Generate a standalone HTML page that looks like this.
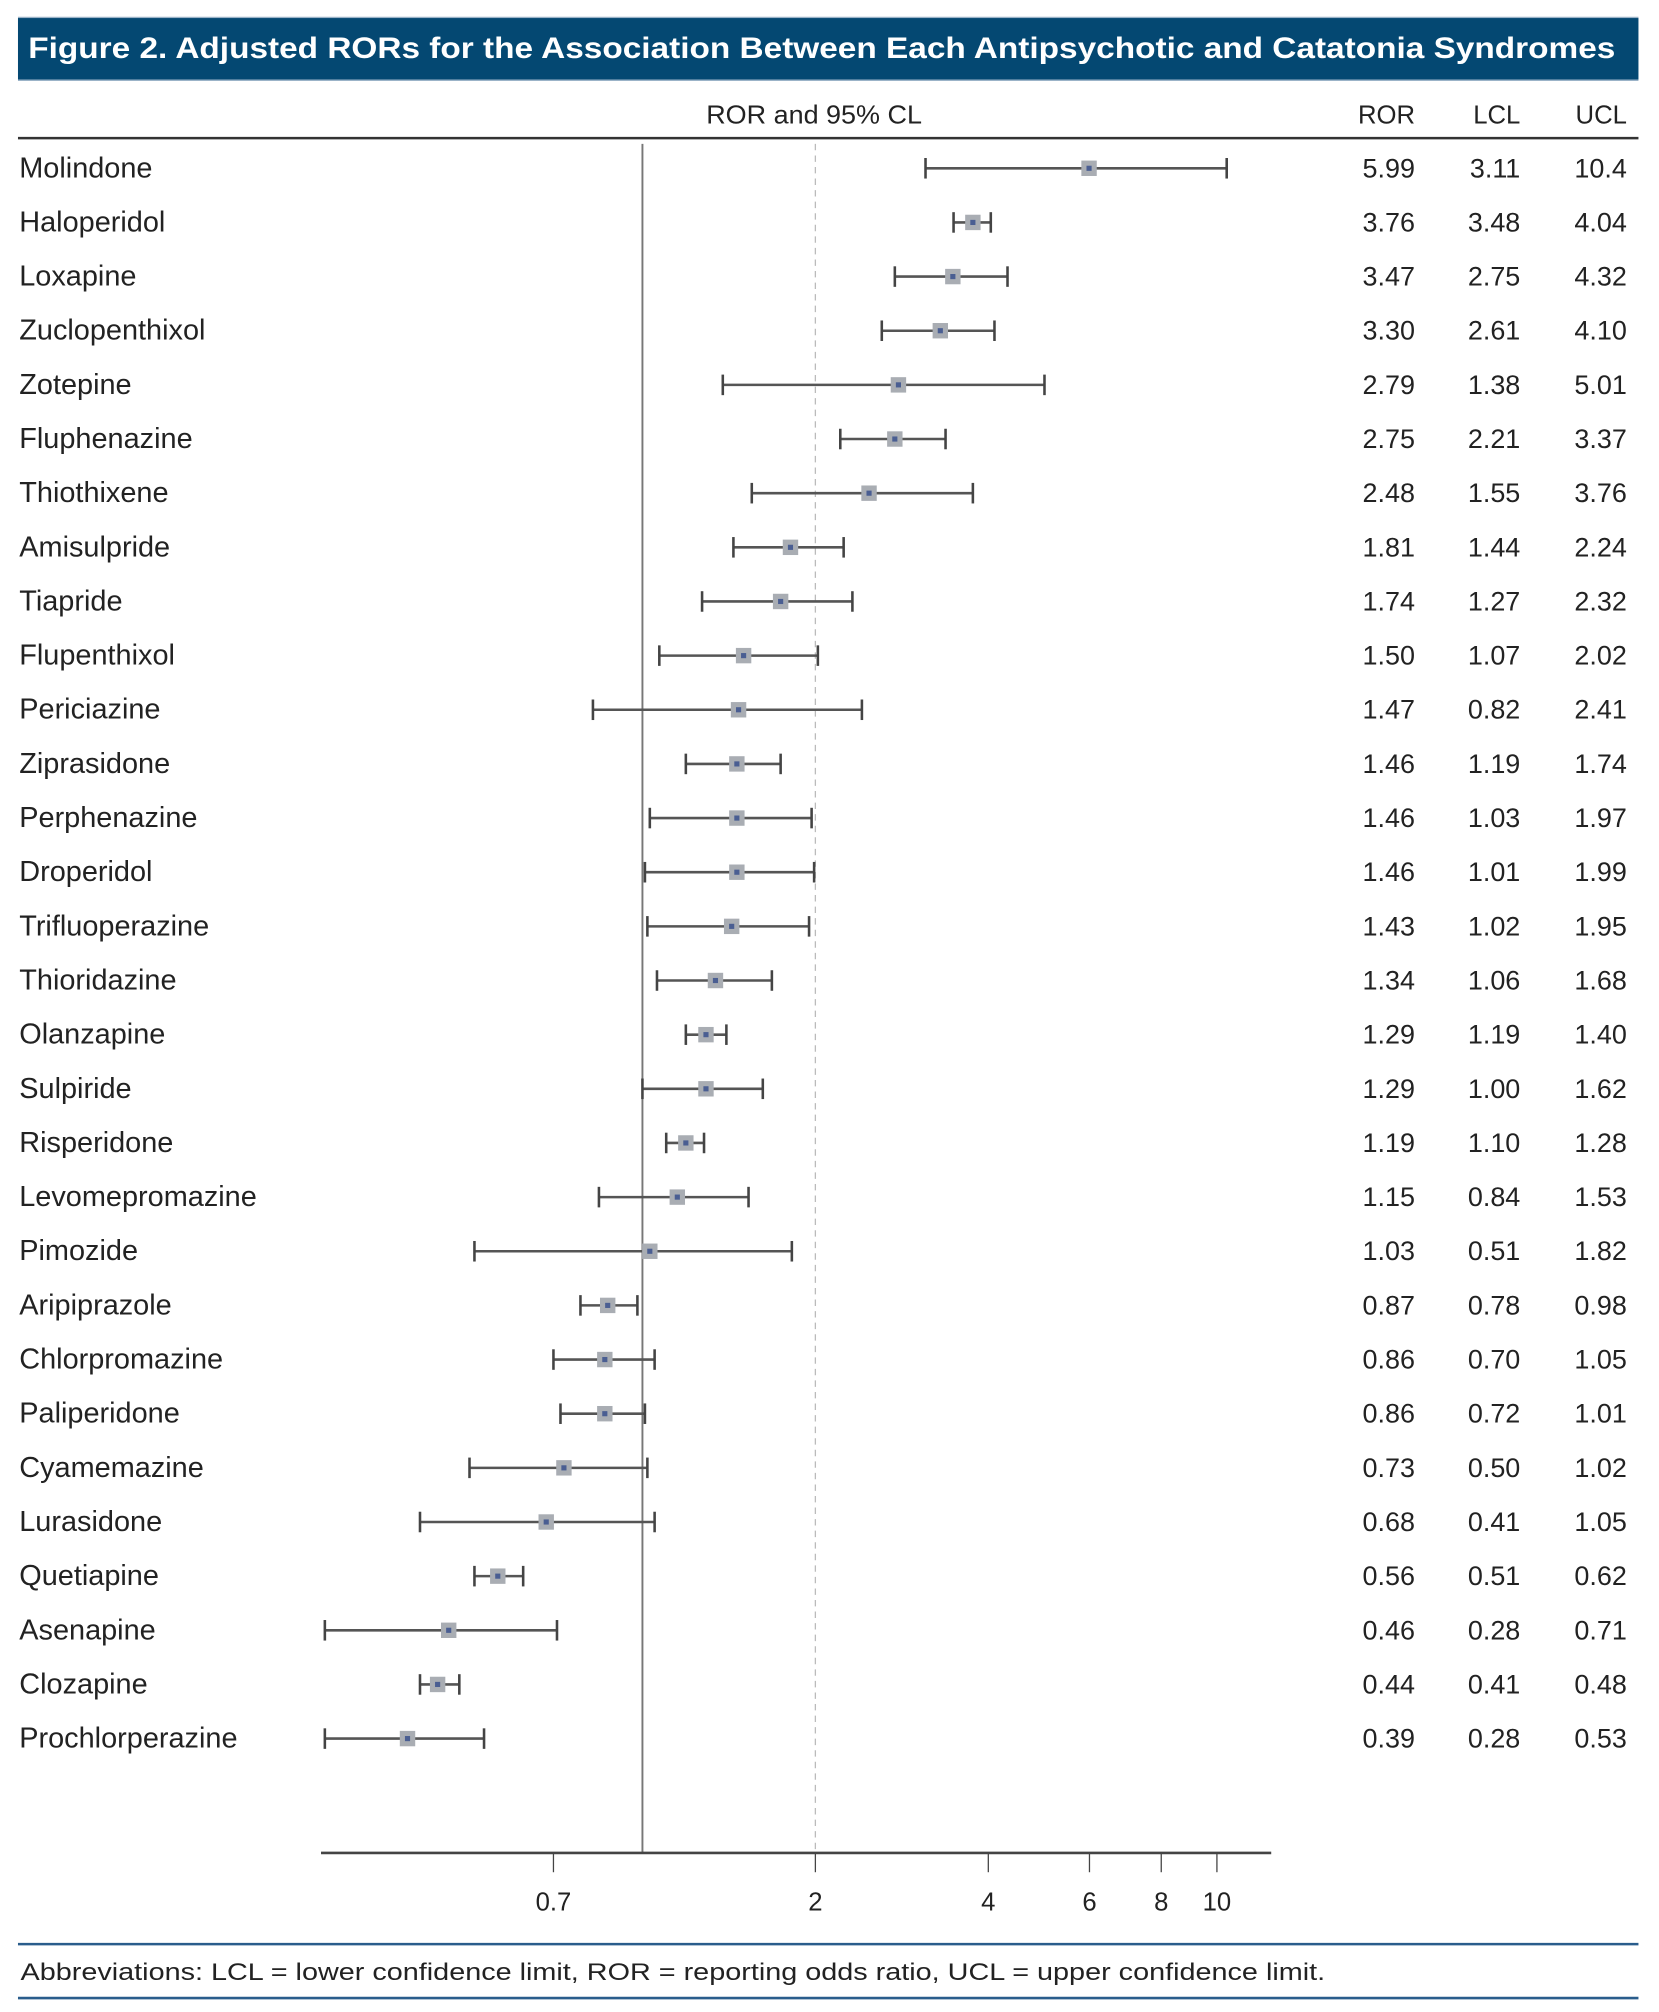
<!DOCTYPE html>
<html><head><meta charset="utf-8"><style>
html,body{margin:0;padding:0;background:#fff}
svg{display:block}
text{font-family:"Liberation Sans",sans-serif}
</style></head><body>
<svg id="chart" width="1659" height="2012" viewBox="0 0 1292 1566.8" xmlns="http://www.w3.org/2000/svg">
<rect x="14" y="14" width="1262" height="48" fill="#044872"/>
<line x1="14" y1="13.5" x2="1276" y2="13.5" stroke="#9bb3c8" stroke-width="1"/>
<line x1="14" y1="62.5" x2="1276" y2="62.5" stroke="#9bb3c8" stroke-width="1"/>
<text x="22" y="45" fill="#fff" font-size="23" font-weight="bold" textLength="1236" lengthAdjust="spacingAndGlyphs">Figure 2. Adjusted RORs for the Association Between Each Antipsychotic and Catatonia Syndromes</text>
<text x="634" y="96" font-size="20" text-anchor="middle" fill="#222" textLength="168" lengthAdjust="spacingAndGlyphs">ROR and 95% CL</text>
<text x="1102" y="96" font-size="20" text-anchor="end" fill="#222">ROR</text>
<text x="1184" y="96" font-size="20" text-anchor="end" fill="#222">LCL</text>
<text x="1267" y="96" font-size="20" text-anchor="end" fill="#222">UCL</text>
<line x1="14" y1="107.5" x2="1276" y2="107.5" stroke="#333" stroke-width="2"/>
<g id="plot"></g>
<line x1="14" y1="1514" x2="1276" y2="1514" stroke="#2a5d8c" stroke-width="2"/>
<text x="16" y="1542" font-size="19" fill="#222" textLength="1016" lengthAdjust="spacingAndGlyphs">Abbreviations: LCL = lower confidence limit, ROR = reporting odds ratio, UCL = upper confidence limit.</text>
<line x1="14" y1="1556" x2="1276" y2="1556" stroke="#2a5d8c" stroke-width="2"/>
</svg>
<script>
const drugs=["Molindone","Haloperidol","Loxapine","Zuclopenthixol","Zotepine","Fluphenazine","Thiothixene","Amisulpride","Tiapride","Flupenthixol","Periciazine","Ziprasidone","Perphenazine","Droperidol","Trifluoperazine","Thioridazine","Olanzapine","Sulpiride","Risperidone","Levomepromazine","Pimozide","Aripiprazole","Chlorpromazine","Paliperidone","Cyamemazine","Lurasidone","Quetiapine","Asenapine","Clozapine","Prochlorperazine"];
const ror=[5.99,3.76,3.47,3.30,2.79,2.75,2.48,1.81,1.74,1.50,1.47,1.46,1.46,1.46,1.43,1.34,1.29,1.29,1.19,1.15,1.03,0.87,0.86,0.86,0.73,0.68,0.56,0.46,0.44,0.39];
const lcl=[3.11,3.48,2.75,2.61,1.38,2.21,1.55,1.44,1.27,1.07,0.82,1.19,1.03,1.01,1.02,1.06,1.19,1.00,1.10,0.84,0.51,0.78,0.70,0.72,0.50,0.41,0.51,0.28,0.41,0.28];
const ucl=[10.4,4.04,4.32,4.10,5.01,3.37,3.76,2.24,2.32,2.02,2.41,1.74,1.97,1.99,1.95,1.68,1.40,1.62,1.28,1.53,1.82,0.98,1.05,1.01,1.02,1.05,0.62,0.71,0.48,0.53];
const rorText=["5.99","3.76","3.47","3.30","2.79","2.75","2.48","1.81","1.74","1.50","1.47","1.46","1.46","1.46","1.43","1.34","1.29","1.29","1.19","1.15","1.03","0.87","0.86","0.86","0.73","0.68","0.56","0.46","0.44","0.39"];
const lclText=["3.11","3.48","2.75","2.61","1.38","2.21","1.55","1.44","1.27","1.07","0.82","1.19","1.03","1.01","1.02","1.06","1.19","1.00","1.10","0.84","0.51","0.78","0.70","0.72","0.50","0.41","0.51","0.28","0.41","0.28"];
const uclText=["10.4","4.04","4.32","4.10","5.01","3.37","3.76","2.24","2.32","2.02","2.41","1.74","1.97","1.99","1.95","1.68","1.40","1.62","1.28","1.53","1.82","0.98","1.05","1.01","1.02","1.05","0.62","0.71","0.48","0.53"];
const ticks=[0.7,2,4,6,8,10];
const tickLabels=["0.7","2","4","6","8","10"];
const refValue=1;
const dashedValue=2;

const NS="http://www.w3.org/2000/svg";
const g=document.getElementById('plot');
const x=v=>635+194.3*Math.log(v/2);
const y=i=>131+i*42.17;
function mk(tag,attrs,parent){const e=document.createElementNS(NS,tag);for(const k in attrs)e.setAttribute(k,attrs[k]);(parent||g).appendChild(e);return e;}

let e=mk('line',{x1:x(refValue),x2:x(refValue),y1:112,y2:1443,stroke:'#777','stroke-width':1.5});


e=mk('line',{x1:x(dashedValue),x2:x(dashedValue),y1:112,y2:1443,stroke:'#bbb','stroke-width':1,'stroke-dasharray':'5,4'});



e=mk('line',{x1:250,x2:990,y1:1443,y2:1443,stroke:'#444','stroke-width':2});


ticks.forEach((t,k)=>{
  let tl=mk('line',{x1:x(t),x2:x(t),y1:1443,y2:1458,stroke:'#444','stroke-width':1});
  
  
  let tx=mk('text',{x:x(t),y:1488,'font-size':20,'text-anchor':'middle',fill:'#222'});
  tx.textContent=tickLabels[k];
  
  
});

drugs.forEach((d,i)=>{
  const yy=y(i);
  let t=mk('text',{x:15,y:yy+7,'font-size':22.5,fill:'#222'});
  t.textContent=d;
  
  
  const ci=mk('g',{});
  
  
  mk('line',{x1:x(lcl[i]),x2:x(ucl[i]),y1:yy,y2:yy,stroke:'#555','stroke-width':2},ci);
  mk('line',{x1:x(lcl[i]),x2:x(lcl[i]),y1:yy-8,y2:yy+8,stroke:'#444','stroke-width':2},ci);
  mk('line',{x1:x(ucl[i]),x2:x(ucl[i]),y1:yy-8,y2:yy+8,stroke:'#444','stroke-width':2},ci);
  const pt=mk('rect',{x:x(ror[i])-6,y:yy-6,width:12,height:12,fill:'#a9adb3'});
  
  
  mk('rect',{x:x(ror[i])-2,y:yy-2,width:4,height:4,fill:'#4a5e92'});
  const cols=[[rorText,1102,'ror-value'],[lclText,1184,'lcl-value'],[uclText,1267,'ucl-value']];
  cols.forEach(c=>{
    let v=mk('text',{x:c[1],y:yy+7,'font-size':21,'text-anchor':'end',fill:'#222'});
    v.textContent=c[0][i];
    
    
  });
});
</script>
</body></html>
